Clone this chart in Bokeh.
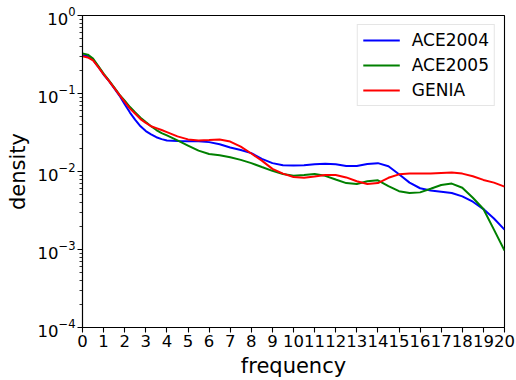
from bokeh.plotting import figure
from bokeh.models import FixedTicker, Legend, LegendItem, LogTickFormatter
from bokeh.embed import file_html
from bokeh.resources import INLINE

freq = [0, 0.25, 0.5, 0.75, 1, 1.25, 1.5, 1.75, 2, 2.25, 2.5, 2.75, 3, 3.25, 3.5, 3.75,
        4, 4.5, 5, 5.5, 6, 6.5, 7, 7.5, 8, 8.5, 9, 9.5, 10, 10.5, 11, 11.5, 12, 12.5,
        13, 13.5, 14, 14.5, 15, 15.5, 16, 16.5, 17, 17.5, 18, 18.5, 19, 19.5, 20]

ace2004 = [0.31, 0.30, 0.27, 0.22, 0.175, 0.145, 0.117, 0.094, 0.073, 0.057, 0.046, 0.038,
           0.033, 0.030, 0.0275, 0.026, 0.025, 0.0246, 0.0245, 0.0245, 0.0238, 0.0224,
           0.0203, 0.0189, 0.0172, 0.0145, 0.0128, 0.012, 0.0119, 0.012, 0.0124, 0.0126,
           0.0124, 0.0118, 0.0118, 0.0125, 0.0128, 0.0117, 0.0092, 0.0072, 0.0061, 0.0057,
           0.0055, 0.0053, 0.0048, 0.0041, 0.0033, 0.0025, 0.0018]

ace2005 = [0.325, 0.315, 0.28, 0.225, 0.18, 0.147, 0.12, 0.097, 0.081, 0.067, 0.057, 0.049,
           0.043, 0.038, 0.034, 0.031, 0.029, 0.025, 0.0215, 0.0185, 0.0168, 0.0162,
           0.0152, 0.0141, 0.0128, 0.0114, 0.0102, 0.0093, 0.0088, 0.009, 0.0093, 0.0088,
           0.0079, 0.0071, 0.0069, 0.0075, 0.0077, 0.0065, 0.0056, 0.0053, 0.0054, 0.006,
           0.0067, 0.0070, 0.0062, 0.0046, 0.0033, 0.0018, 0.00097]

genia = [0.30, 0.29, 0.265, 0.218, 0.176, 0.145, 0.118, 0.096, 0.078, 0.064, 0.055, 0.047,
         0.042, 0.038, 0.036, 0.034, 0.032, 0.0282, 0.0258, 0.025, 0.0253, 0.0257, 0.0242,
         0.0208, 0.017, 0.0138, 0.0108, 0.0094, 0.0085, 0.0083, 0.0086, 0.009, 0.009,
         0.0084, 0.0075, 0.0069, 0.0071, 0.0083, 0.0092, 0.0094, 0.0094, 0.0094, 0.0096,
         0.0097, 0.0094, 0.0087, 0.0078, 0.0072, 0.0064]

series = [("ACE2004", ace2004, "blue"), ("ACE2005", ace2005, "green"), ("GENIA", genia, "red")]

x_ticks = list(range(0, 21))
y_major = [1e-4, 1e-3, 1e-2, 1e-1, 1e0]

FONT = "DejaVu Sans"

p = figure(width=516, height=380, y_axis_type="log", x_range=(0, 20), y_range=(1e-4, 1),
           output_backend="svg", toolbar_location=None,
           min_border_left=82, min_border_right=12, min_border_top=15, min_border_bottom=51)

p.background_fill_color = "white"
p.border_fill_color = "white"
p.grid.visible = False
p.outline_line_color = "black"
p.outline_line_width = 1.1

items = []
for name, vals, col in series:
    r = p.line(freq, vals, line_color=col, line_width=2)
    items.append(LegendItem(label=name, renderers=[r]))

minor = [m * 10 ** e for e in range(-4, 0) for m in range(2, 10)]
p.yaxis.ticker = FixedTicker(ticks=y_major, minor_ticks=minor)
p.yaxis.formatter = LogTickFormatter()
p.xaxis.ticker = FixedTicker(ticks=x_ticks)

for ax in (p.xaxis[0], p.yaxis[0]):
    ax.axis_line_width = 1.1
    ax.axis_line_color = "black"
    ax.major_tick_line_color = "black"
    ax.major_tick_line_width = 1.1
    ax.major_tick_in = 0
    ax.major_tick_out = 5
    ax.minor_tick_in = 0
    ax.minor_tick_out = 3
    ax.minor_tick_line_width = 0.8
    ax.major_label_text_font = FONT
    ax.major_label_text_font_size = "16.5px"
    ax.major_label_text_color = "black"
    ax.major_label_standoff = 2
    ax.axis_label_text_font = FONT
    ax.axis_label_text_font_size = "21px"
    ax.axis_label_text_font_style = "normal"
    ax.axis_label_text_color = "black"
    ax.axis_label_standoff = 4

p.xaxis.minor_tick_line_color = None
p.xaxis.axis_label = "frequency"
p.yaxis.axis_label = "density"

legend = Legend(items=items, location="top_right")
legend.label_text_font = FONT
legend.label_text_font_size = "17px"
legend.label_text_color = "black"
legend.glyph_width = 37
legend.glyph_height = 20
legend.label_height = 20
legend.label_standoff = 12
legend.spacing = 5
legend.padding = 5
legend.margin = 9
legend.border_line_color = "#cccccc"
legend.border_line_width = 1
legend.background_fill_color = "white"
legend.background_fill_alpha = 0.8
p.add_layout(legend)

open("out.html", "w").write(file_html(p, INLINE))
